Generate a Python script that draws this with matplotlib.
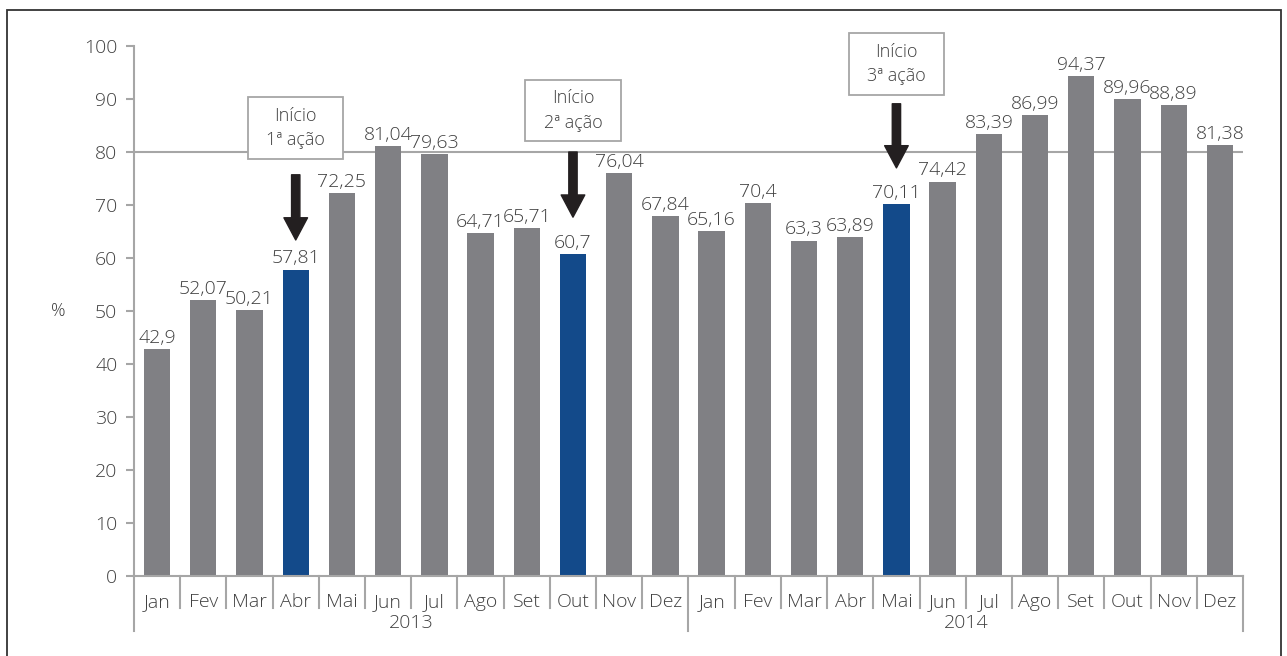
import matplotlib
matplotlib.use("Agg")
import matplotlib.pyplot as plt
from matplotlib.patches import Rectangle
from matplotlib.transforms import blended_transform_factory

plt.rcParams['font.family'] = ['Open Sans', 'DejaVu Sans']
plt.rcParams['font.weight'] = 'light'

# data
months = ["Jan", "Fev", "Mar", "Abr", "Mai", "Jun", "Jul", "Ago", "Set", "Out", "Nov", "Dez",
          "Jan", "Fev", "Mar", "Abr", "Mai", "Jun", "Jul", "Ago", "Set", "Out", "Nov", "Dez"]
years = ["2013", "2014"]
values = [42.9, 52.07, 50.21, 57.81, 72.25, 81.04, 79.63, 64.71, 65.71, 60.7, 76.04, 67.84,
          65.16, 70.4, 63.3, 63.89, 70.11, 74.42, 83.39, 86.99, 94.37, 89.96, 88.89, 81.38]
labels = ["42,9", "52,07", "50,21", "57,81", "72,25", "81,04", "79,63", "64,71", "65,71", "60,7",
          "76,04", "67,84", "65,16", "70,4", "63,3", "63,89", "70,11", "74,42", "83,39", "86,99",
          "94,37", "89,96", "88,89", "81,38"]
highlight = [3, 9, 16]
actions = ["Início\n1ª ação", "Início\n2ª ação", "Início\n3ª ação"]
target = 80

GRAY = "#808084"
BLUE = "#134a8a"
LINE = "#a6a6a6"
TXT = "#404040"

fig = plt.figure(figsize=(12.87, 6.56), dpi=100)
ax = fig.add_axes([134 / 1287, 80 / 656, 1109 / 1287, 530 / 656])

colors = [BLUE if i in highlight else GRAY for i in range(len(values))]
x = list(range(len(values)))
ax.bar(x, values, width=0.57, color=colors, zorder=2)

for i, (v, lab) in enumerate(zip(values, labels)):
    ax.text(i, v + 0.4, lab, ha='center', va='bottom', fontsize=14, color=TXT, zorder=3)

ax.axhline(target, color=LINE, lw=1.5, zorder=1, xmin=0, xmax=1)

ax.set_xlim(-0.5, len(values) - 0.5)
ax.set_ylim(0, 100)
ax.set_yticks(range(0, 101, 10))
ax.tick_params(axis='y', labelsize=14, labelcolor=TXT, color=LINE, width=1.5, length=6, pad=6)
ax.set_xticks([])
for s in ['top', 'right']:
    ax.spines[s].set_visible(False)
ax.spines['left'].set_color(LINE)
ax.spines['left'].set_linewidth(1.5)
ax.spines['bottom'].set_color(LINE)
ax.spines['bottom'].set_linewidth(1.5)

ax.text(-0.0685, 0.5, "%", transform=ax.transAxes, fontsize=13, color=TXT, ha='center', va='center')

# category axis with month / year groups
tr = blended_transform_factory(ax.transData, ax.transAxes)
n = len(months)
for i in range(n + 1):
    bottom = -0.103 if i % 12 == 0 else -0.060
    ax.plot([i - 0.5, i - 0.5], [0, bottom], color=LINE, lw=1.5, transform=tr, clip_on=False)
for i, m in enumerate(months):
    ax.text(i, -0.049, m, transform=tr, ha='center', va='center', fontsize=14, color=TXT)
for k, yr in enumerate(years):
    ax.text(k * 12 + 5.5, -0.088, yr, transform=tr, ha='center', va='center', fontsize=14, color=TXT)

# action boxes and arrows
box_y = [(78.7, 90.4), (82.1, 93.6), (90.8, 102.5)]
arrow_y = [(75.7, 63.4), (80.0, 67.7), (89.1, 77.0)]
for i, txt, (b0, b1), (a0, a1) in zip(highlight, actions, box_y, arrow_y):
    ax.add_patch(Rectangle((i - 1.03, b0), 2.06, b1 - b0, facecolor='white', edgecolor=LINE,
                           lw=1.3, zorder=4, clip_on=False))
    ax.text(i, (b0 + b1) / 2, txt, ha='center', va='center', fontsize=13, color=TXT,
            linespacing=1.45, zorder=5, clip_on=False)
    ax.annotate('', xy=(i, a1), xytext=(i, a0), annotation_clip=False,
                arrowprops=dict(arrowstyle='simple,head_width=0.85,head_length=0.8,tail_width=0.3',
                                color='#231f20', mutation_scale=20, shrinkA=0, shrinkB=0), zorder=5)

# outer frame
fig.patches.append(Rectangle((7 / 1287, -0.05), (1281 - 7) / 1287, (651 - 5) / 656 + 0.05,
                             transform=fig.transFigure, fill=False, edgecolor='#333333', lw=1.3))

fig.savefig("out.png", dpi=100)
